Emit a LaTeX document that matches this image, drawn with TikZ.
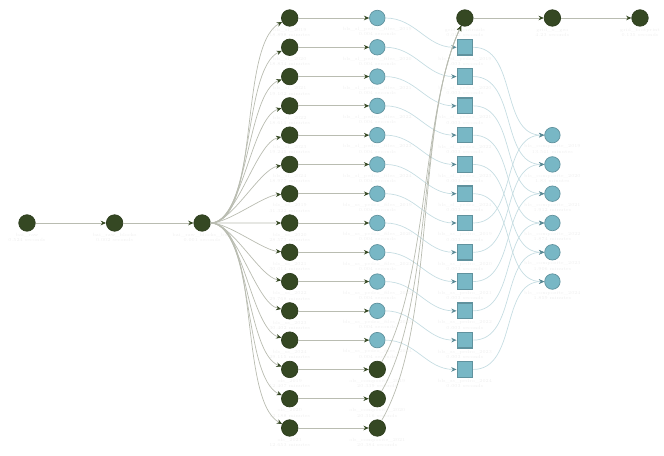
\documentclass[tikz,border=0pt]{standalone}
\usepackage{tikz}
\usetikzlibrary{arrows.meta}
\usetikzlibrary{calc}

\definecolor{uptodate}{HTML}{354823}
\definecolor{outdated}{HTML}{78B7C5}
\definecolor{edgedone}{HTML}{B9BCB1}
\definecolor{edgestale}{HTML}{C6DDE2}

\tikzset{
  done/.style={circle, fill=uptodate, draw=uptodate!85!black, minimum size=0.33cm, inner sep=0pt},
  stale/.style={circle, fill=outdated, draw=outdated!80!black, minimum size=0.31cm, inner sep=0pt},
  branch/.style={rectangle, fill=outdated, draw=outdated!80!black, line width=0.7pt, minimum size=0.31cm, inner sep=0pt},
  lbl/.style={text=gray!13, font=\fontsize{2.6}{3}\selectfont, align=center, inner sep=0.6pt},
  fromdone/.style={draw=edgedone, line width=0.4pt, -{Stealth[length=3pt, width=2.6pt, color=uptodate]}},
  fromstale/.style={draw=edgestale, line width=0.4pt, -{Stealth[length=3pt, width=2.6pt, color=outdated!75!black]}}
}

\begin{document}
\begin{tikzpicture}[x=0.02cm, y=0.02cm]
  \useasboundingbox (0,0) rectangle (664,456);

  \node[done, label={[lbl]below:{bai\_raw\\0.524 seconds}}] (raw) at (27,233) {};
  \node[done, label={[lbl]below:{bai\_raw\_blocks\\0.002 seconds}}] (blocks) at (114.6,233) {};
  \node[done, label={[lbl]below:{bai\_raw\_blocks\_buff\\0.001 seconds}}] (buff) at (202.1,233) {};

  \foreach \r/\kind/\yr/\t in {0/sl/2019/18.898 minutes, 1/sl/2020/18.834 minutes,
      2/sl/2021/19.102 minutes, 3/sl/2022/18.611 minutes, 4/sl/2023/19.245 minutes,
      5/sl/2024/18.977 minutes, 6/ss/2019/31.322 minutes, 7/ss/2020/28.573 minutes,
      8/ss/2021/30.014 minutes, 9/ss/2022/29.768 minutes, 10/ss/2023/30.402 minutes,
      11/ss/2024/29.115 minutes} {
    \pgfmathsetmacro\y{438-29.286*\r}
    \node[done, label={[lbl]below:{bls\_\kind\_\yr\\\t}}] (yr\r) at (289.7,\y) {};
    \node[stale, label={[lbl]below:{bls\_\kind\_pedro\_files\_\yr\\0.004 seconds}}] (file\r) at (377.3,\y) {};
  }
  \foreach \r/\yr/\t/\s in {12/2019/12.407 minutes/20.339 seconds,
      13/2020/12.188 minutes/20.316 seconds, 14/2021/12.653 minutes/20.384 seconds} {
    \pgfmathsetmacro\y{438-29.286*\r}
    \node[done, label={[lbl]below:{ols\_\yr\\\t}}] (yr\r) at (289.7,\y) {};
    \node[done, label={[lbl]below:{ols\_composite\_\yr\\\s}}] (file\r) at (377.3,\y) {};
  }

  \foreach \k/\kind/\yr in {0/sl/2019, 1/sl/2020, 2/sl/2021, 3/sl/2022, 4/sl/2023, 5/sl/2024,
      6/ss/2019, 7/ss/2020, 8/ss/2021, 9/ss/2022, 10/ss/2023, 11/ss/2024} {
    \pgfmathsetmacro\y{438-29.286*(\k+1)}
    \node[branch, label={[lbl]below:{bls\_\kind\_pedro\_\yr\\0.003 seconds}}] (pat\k) at (464.9,\y) {};
  }
  \foreach \k/\yr/\t in {0/2019/13.541 minutes, 1/2020/1.83 minutes, 2/2021/1.912 minutes,
      3/2022/1.874 minutes, 4/2023/1.906 minutes, 5/2024/1.859 minutes} {
    \pgfmathsetmacro\y{438-29.286*(\k+4)}
    \node[stale, label={[lbl]below:{bls\_composite\_\yr\\\t}}] (comp\k) at (552.4,\y) {};
  }

  \node[done, label={[lbl]below:{grid\_centroids\\0.012 seconds}}] (cent) at (464.9,438) {};
  \node[done, label={[lbl]below:{grid\_x\_geo\\4.23 seconds}}] (geo) at (552.4,438) {};
  \node[done, label={[lbl]below:{grid\_footprint\\0.135 seconds}}] (foot) at (640,438) {};

  \draw[fromdone] (raw) -- (blocks);
  \draw[fromdone] (blocks) -- (buff);
  \foreach \r in {0,...,14} {
    \pgfmathsetmacro\ang{180+(7-\r)*4}
    \draw[fromdone] (buff) to[out=0, in=\ang, looseness=0.6] (yr\r);
    \draw[fromdone] (yr\r) -- (file\r);
  }
  \foreach \r in {0,...,11}
    \draw[fromstale] (file\r) to[out=0, in=180] (pat\r);
  \foreach \r in {12,13,14}
    \draw[fromdone] (file\r) to[out=60, in=245, looseness=0.7] (cent);
  \foreach \k [evaluate=\k as \j using int(\k+6)] in {0,...,5} {
    \draw[fromstale] (pat\k) to[out=0, in=180] (comp\k);
    \draw[fromstale] (pat\j) to[out=0, in=180] (comp\k);
  }
  \draw[fromdone] (cent) -- (geo);
  \draw[fromdone] (geo) -- (foot);
\end{tikzpicture}
\end{document}
